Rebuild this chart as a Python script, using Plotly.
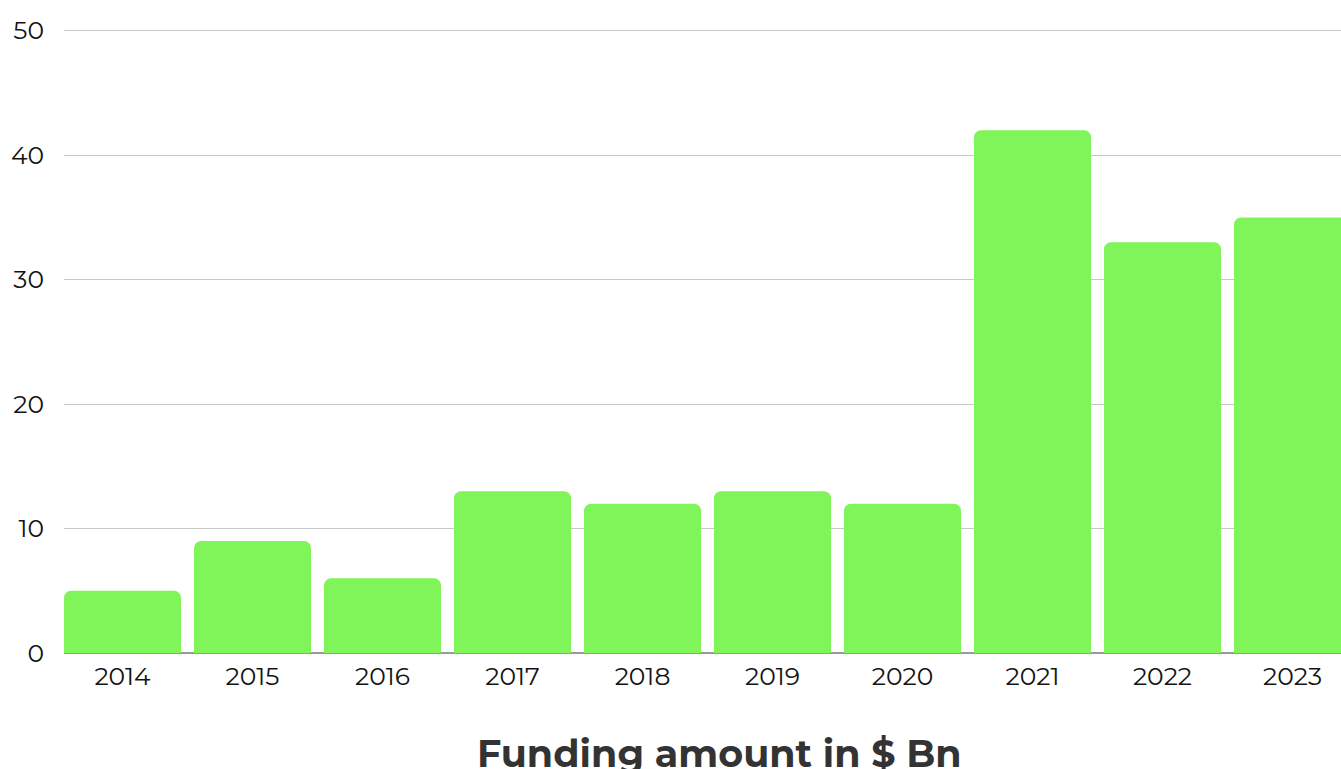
import plotly.graph_objects as go

years = ["2014", "2015", "2016", "2017", "2018", "2019", "2020", "2021", "2022", "2023"]
funding_bn = [5, 9, 6, 13, 12, 13, 12, 42, 33, 35]
y_ticks = [0, 10, 20, 30, 40, 50]

FONT = "Montserrat, 'Open Sans', Lato, sans-serif"

fig = go.Figure(
    go.Bar(
        x=list(range(len(years))),
        y=funding_bn,
        marker=dict(color="#80F55A", line=dict(width=0)),
        hoverinfo="skip",
    )
)

fig.update_layout(
    width=1341,
    height=769,
    margin=dict(l=64, r=0, t=27, b=116),
    paper_bgcolor="white",
    plot_bgcolor="white",
    bargap=0.1,
    barcornerradius=7,
    showlegend=False,
    font=dict(family=FONT, size=25, color="#141414"),
)

fig.update_xaxes(
    range=[-0.45, 9.373],
    tickmode="array",
    tickvals=list(range(len(years))),
    ticktext=years,
    showgrid=False,
    zeroline=False,
    showline=False,
    ticks="",
    ticklabelstandoff=6,
)

fig.update_yaxes(
    range=[0, 50.3],
    tickmode="array",
    tickvals=y_ticks,
    showgrid=True,
    gridcolor="#c8c8c8",
    gridwidth=1,
    zeroline=True,
    zerolinecolor="#9a9a9a",
    zerolinewidth=1.5,
    showline=False,
    ticks="",
    ticklabelstandoff=19,
)

fig.add_annotation(
    text="<b>Funding amount in $ Bn</b>",
    xref="paper",
    yref="paper",
    x=0.513,
    y=-0.12,
    xanchor="center",
    yanchor="top",
    showarrow=False,
    font=dict(family=FONT, size=38, color="#333333"),
)

fig.write_html("out.html")
